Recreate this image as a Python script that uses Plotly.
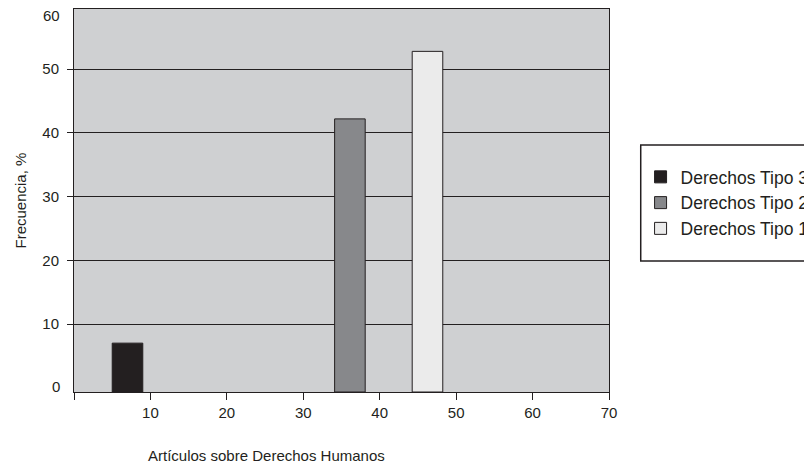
import plotly.graph_objects as go

# Data
series_names = ["Derechos Tipo 3", "Derechos Tipo 2", "Derechos Tipo 1"]
series_x = [7.0, 36.1, 46.25]
series_values = [7.0, 42.2, 52.8]
series_colors = ["#231f20", "#87888b", "#ebebeb"]
bar_width = 4.0

x_tickvals = [0, 10, 20, 30, 40, 50, 60, 70]
x_ticktext = ["", "10", "20", "30", "40", "50", "60", "70"]
y_tickvals = [10, 20, 30, 40, 50]
y_bottom_label = "0"
y_top_label = "60"
y_range = [-0.67, 59.45]

x_title = "Artículos sobre Derechos Humanos"
y_title = "Frecuencia, %"

FONT = "Liberation Sans, Arial, sans-serif"
DARK = "#231f20"

fig = go.Figure()
for name, xv, yv, col in zip(series_names, series_x, series_values, series_colors):
    fig.add_trace(go.Bar(
        x=[xv], y=[yv - y_range[0]], base=y_range[0], name=name, width=bar_width,
        marker=dict(color=col, line=dict(color=DARK, width=1)),
        hovertext=[f"{yv}"],
    ))

fig.update_layout(
    width=804, height=463,
    margin=dict(l=66, r=203, t=1, b=79, autoexpand=False),
    paper_bgcolor="white",
    plot_bgcolor="#cfd0d2",
    barmode="overlay",
    font=dict(family=FONT, size=15, color=DARK),
    showlegend=True,
    legend=dict(
        x=1.059, xanchor="left", y=0.4935, yanchor="middle",
        bgcolor="rgba(0,0,0,0)", borderwidth=0,
        font=dict(family=FONT, size=17.5, color=DARK),
        traceorder="normal",
    ),
    shapes=[
        dict(type="rect", xref="paper", yref="paper",
             x0=1.0593, x1=1.45, y0=0.342, y1=0.645,
             line=dict(color=DARK, width=1.5), fillcolor="rgba(0,0,0,0)"),
    ],
    xaxis=dict(
        range=[0, 70], tickvals=x_tickvals, ticktext=x_ticktext,
        showgrid=False, zeroline=False, automargin=False,
        showline=True, linecolor=DARK, linewidth=1, mirror=True,
        ticks="outside", ticklen=7, tickcolor=DARK, tickwidth=1,
        tickfont=dict(size=15, color=DARK),
    ),
    yaxis=dict(
        range=y_range, tickvals=y_tickvals, automargin=False,
        showgrid=True, gridcolor=DARK, gridwidth=1, zeroline=False,
        showline=True, linecolor=DARK, linewidth=1, mirror=True,
        ticks="outside", ticklen=6, tickcolor=DARK, tickwidth=1,
        ticklabelstandoff=5,
        tickfont=dict(size=15, color=DARK),
    ),
    annotations=[
        dict(text=x_title, xref="paper", yref="paper", x=0.359, y=0,
             yshift=-63, xanchor="center", yanchor="middle", showarrow=False,
             font=dict(size=15, color=DARK)),
        dict(text=y_title, xref="paper", yref="paper", x=0, y=0.5,
             xshift=-54, xanchor="center", yanchor="middle", textangle=-90,
             showarrow=False, font=dict(size=15, color=DARK)),
        dict(text=y_top_label, xref="paper", yref="paper", x=0, y=1,
             xshift=-12, yshift=-6, xanchor="right", yanchor="middle",
             showarrow=False, font=dict(size=15, color=DARK)),
        dict(text=y_bottom_label, xref="paper", yref="y", x=0, y=0,
             xshift=-12, yshift=1, xanchor="right", yanchor="middle",
             showarrow=False, font=dict(size=15, color=DARK)),
    ],
)

fig.write_html("out.html")
